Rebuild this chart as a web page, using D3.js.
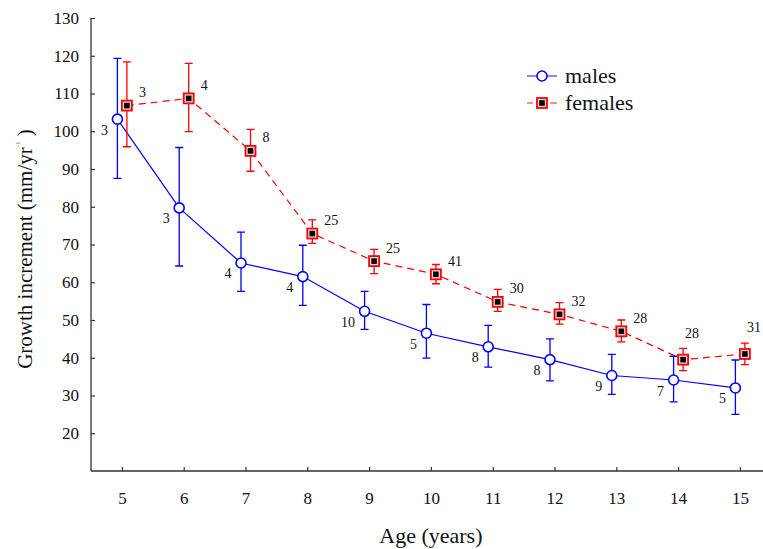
<!DOCTYPE html>
<html>
<head>
<meta charset="utf-8">
<script src="https://cdn.jsdelivr.net/npm/d3@7"></script>
<style>
  html, body { margin: 0; padding: 0; background: #fff; }
  svg { display: block; }
  svg text { font-family: "Liberation Serif", "Times New Roman", serif !important; fill: #111; }
</style>
</head>
<body>
<svg id="chart" width="763" height="549" font-family="Liberation Serif, serif"></svg>
<script>
// ---- data ----
const ages = [5, 6, 7, 8, 9, 10, 11, 12, 13, 14, 15];
const malesMean  = [103.2, 79.7, 65.1, 61.5, 52.3, 46.5, 42.9, 39.5, 35.3, 34.1, 32.0];
const malesUpper = [119.3, 95.7, 73.3, 69.8, 57.6, 54.1, 48.6, 45.0, 40.9, 40.4, 39.4];
const malesLower = [87.5, 64.3, 57.6, 53.9, 47.5, 39.9, 37.5, 33.9, 30.3, 28.3, 25.0];
const malesN     = [3, 3, 4, 4, 10, 5, 8, 8, 9, 7, 5];
const femalesMean  = [106.8, 108.7, 94.8, 72.9, 65.6, 62.1, 54.8, 51.5, 47.0, 39.5, 41.0];
const femalesUpper = [118.4, 118.0, 100.5, 76.5, 68.7, 64.7, 58.1, 54.6, 50.0, 42.5, 43.9];
const femalesLower = [95.9, 99.9, 89.4, 70.3, 62.3, 59.6, 52.3, 48.9, 44.2, 36.6, 38.2];
const femalesN     = [3, 4, 8, 25, 25, 41, 30, 32, 28, 28, 31];
const femalesLabelPlacement = ["side","side","side","side","side","side","side","side","side","above","above"];
const yTicks = [20, 30, 40, 50, 60, 70, 80, 90, 100, 110, 120, 130];
const xTicks = ages;
const seriesNames = ["males", "females"];
const xTitle = "Age (years)";
const yTitle = "Growth increment (mm/yr";

// ---- layout ----
const FONT = '"Liberation Serif", "Times New Roman", serif';
const svg = d3.select("#chart");
const x = d3.scaleLinear().domain([4.5, 15.5]).range([91, 770.8]);
const y = d3.scaleLinear().domain([10, 130]).range([471, 18]);
const maleShift = -4.5, femaleShift = 5;
const blue = "#0000ff", red = "#ff0000";
const axisColor = "#333";

const males = ages.map((a, i) => ({age: a, m: malesMean[i], hi: malesUpper[i], lo: malesLower[i], n: malesN[i]}));
const females = ages.map((a, i) => ({age: a, m: femalesMean[i], hi: femalesUpper[i], lo: femalesLower[i], n: femalesN[i], place: femalesLabelPlacement[i]}));

// axes
const yAxis = d3.axisLeft(y).tickValues(yTicks).tickSize(-4).tickPadding(12).tickFormat(d3.format("d"));
const gy = svg.append("g").attr("transform", "translate(91,0)").call(yAxis);
gy.select(".domain").attr("d", `M0,${y(130)}V${y(10)}`);
const xAxis = d3.axisBottom(x).tickValues(xTicks).tickSize(-4).tickPadding(21).tickFormat(d3.format("d"));
const gx = svg.append("g").attr("transform", "translate(0,471)").call(xAxis);
gx.select(".domain").attr("d", `M91,0H770.8`);
[gx, gy].forEach(g => {
  g.attr("font-family", FONT).attr("font-size", 17);
  g.selectAll(".domain").attr("stroke", axisColor).attr("stroke-width", 1.3);
  g.selectAll(".tick line").attr("stroke", axisColor).attr("stroke-width", 1.2);
  g.selectAll(".tick text").attr("font-size", 17).attr("fill", "#111").attr("font-family", FONT);
});

// titles
svg.append("text").attr("x", x(10)).attr("y", 543).attr("text-anchor", "middle")
  .attr("font-family", FONT).attr("font-size", 22).text(xTitle);
const yt = svg.append("text").attr("transform", "translate(32,249) rotate(-90)")
  .attr("text-anchor", "middle").attr("font-family", FONT).attr("font-size", 21);
yt.append("tspan").text(yTitle);
yt.append("tspan").attr("font-size", 7).attr("dy", -12).attr("fill", "#888").text("-1");
yt.append("tspan").attr("dy", 12).text(" )");

// lines
const lineM = d3.line().x(d => x(d.age) + maleShift).y(d => y(d.m));
const lineF = d3.line().x(d => x(d.age) + femaleShift).y(d => y(d.m));
svg.append("path").datum(males).attr("d", lineM).attr("fill", "none").attr("stroke", blue).attr("stroke-width", 1.2);
svg.append("path").datum(females).attr("d", lineF).attr("fill", "none").attr("stroke", red)
  .attr("stroke-width", 1.2).attr("stroke-dasharray", "7,5");

// error bars
function errorBars(data, shift, color) {
  const g = svg.append("g").attr("stroke", color).attr("stroke-width", 1.3).attr("fill", "none");
  g.selectAll("path").data(data).join("path")
    .attr("d", d => {
      const cx = x(d.age) + shift, t = y(d.hi), b = y(d.lo);
      return `M${cx},${t}V${b}M${cx - 4},${t}H${cx + 4}M${cx - 4},${b}H${cx + 4}`;
    });
}
errorBars(females, femaleShift, red);
errorBars(males, maleShift, blue);

// markers
function circleMarker(g, cx, cy) {
  g.append("circle").attr("cx", cx).attr("cy", cy).attr("r", 5)
    .attr("fill", "#fff").attr("stroke", blue).attr("stroke-width", 1.6);
}
function squareMarker(g, cx, cy) {
  g.append("rect").attr("x", cx - 5).attr("y", cy - 5).attr("width", 10).attr("height", 10)
    .attr("fill", "#dcdcdc").attr("stroke", red).attr("stroke-width", 1.8);
  g.append("rect").attr("x", cx - 2.8).attr("y", cy - 2.8).attr("width", 5.6).attr("height", 5.6).attr("fill", "#000");
}
const mk = svg.append("g");
males.forEach(d => circleMarker(mk, x(d.age) + maleShift, y(d.m)));
females.forEach(d => squareMarker(mk, x(d.age) + femaleShift, y(d.m)));

// sample size labels
svg.append("g").attr("font-family", FONT).selectAll("text").data(males).join("text")
  .attr("x", d => x(d.age) + maleShift - 9.5)
  .attr("y", d => y(d.m) + 15.5)
  .attr("text-anchor", "end").attr("font-size", 14).text(d => d.n);
svg.append("g").attr("font-family", FONT).selectAll("text").data(females).join("text")
  .attr("x", d => x(d.age) + femaleShift + (d.place === "above" ? 9 : 12))
  .attr("y", d => y(d.m) + (d.place === "above" ? -21.5 : -8.5))
  .attr("text-anchor", d => d.place === "above" ? "middle" : "start")
  .attr("font-size", 14).text(d => d.n);

// legend
const lg = svg.append("g");
const legendRows = [{name: seriesNames[0], yy: 76}, {name: seriesNames[1], yy: 103}];
lg.append("line").attr("x1", 527).attr("x2", 557).attr("y1", 76).attr("y2", 76)
  .attr("stroke", "#6a6aff").attr("stroke-width", 1.6);
circleMarker(lg, 542, 76);
lg.append("line").attr("x1", 527).attr("x2", 557).attr("y1", 103).attr("y2", 103)
  .attr("stroke", "#ff6a6a").attr("stroke-width", 1.4).attr("stroke-dasharray", "7,5").attr("stroke-dashoffset", 1);
squareMarker(lg, 542, 103);
lg.selectAll("text").data(legendRows).join("text")
  .attr("x", 565).attr("y", d => d.yy + 7).attr("font-family", FONT).attr("font-size", 22).text(d => d.name);
</script>
</body>
</html>
